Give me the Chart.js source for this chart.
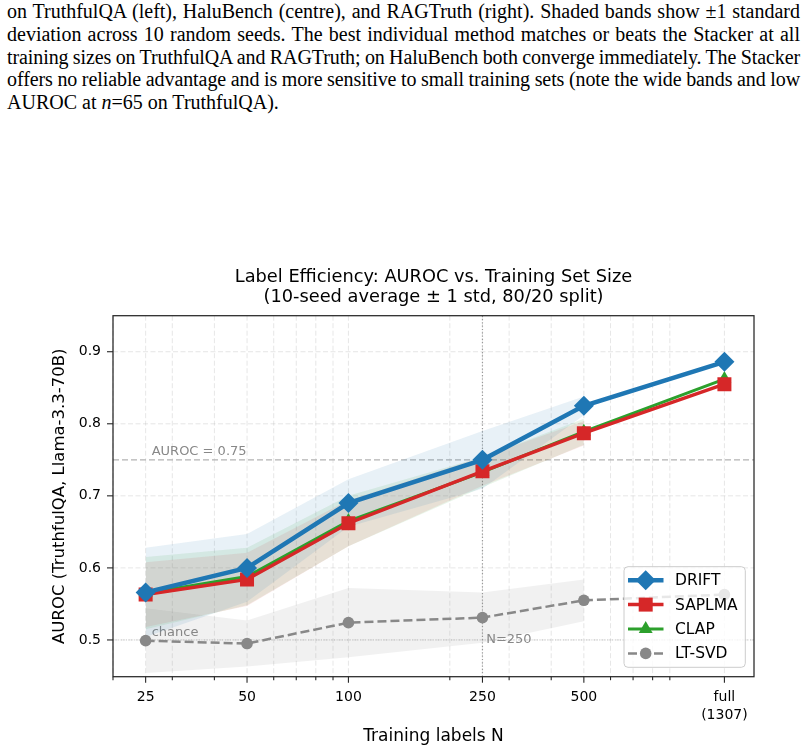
<!DOCTYPE html>
<html>
<head>
<meta charset="utf-8">
<script src="https://cdn.jsdelivr.net/npm/chart.js@4.4.1/dist/chart.umd.min.js"></script>
<style>
  html, body { margin: 0; padding: 0; background: #fff; width: 806px; height: 751px; overflow: hidden; }
  #caption { position: absolute; left: 7px; top: 0px; width: 793px; font-family: "Liberation Serif", "Times New Roman", serif; font-size: 20px; line-height: 22.8px; color: #000; }
  #caption div { white-space: nowrap; }
  #caption span { display: inline-block; }
  #wrap { position: absolute; left: 0; top: 240px; width: 806px; height: 511px; }
</style>
</head>
<body>
<div id="caption">
  <div><span class="just">on TruthfulQA (left), HaluBench (centre), and RAGTruth (right). Shaded bands show ±1 standard</span></div>
  <div><span class="just">deviation across 10 random seeds. The best individual method matches or beats the Stacker at all</span></div>
  <div><span class="just">training sizes on TruthfulQA and RAGTruth; on HaluBench both converge immediately. The Stacker</span></div>
  <div><span class="just">offers no reliable advantage and is more sensitive to small training sets (note the wide bands and low</span></div>
  <div><span>AUROC at <i>n</i>=65 on TruthfulQA).</span></div>
</div>
<div id="wrap"><canvas id="chart" width="806" height="511"></canvas></div>
<script>
// training set sizes (the last one is the full set)
var sizes = [25, 50, 100, 250, 500, 1307];
var bandSizes = [25, 50, 100, 250, 500];

var driftMean  = [0.566, 0.600, 0.690, 0.750, 0.825, 0.886];
var driftStd   = [0.062, 0.047, 0.033, 0.040, 0.013];
var saplmaMean = [0.563, 0.584, 0.662, 0.734, 0.787, 0.855];
var saplmaStd  = [0.045, 0.037, 0.032, 0.020, 0.017];
var clapMean   = [0.565, 0.588, 0.665, 0.733, 0.789, 0.862];
var clapStd    = [0.050, 0.040, 0.035, 0.021, 0.018];
var ltsvdMean  = [0.499, 0.495, 0.524, 0.531, 0.555, 0.563];
var ltsvdStd   = [0.045, 0.032, 0.048, 0.035, 0.029];

var xMajor = [25, 50, 100, 250, 500, 1307];
var xLabels = ['25', '50', '100', '250', '500', ['full', '(1307)']];
var xMinor = [20, 30, 40, 60, 70, 80, 90, 200, 300, 400, 600, 700, 800, 900];
var yTicks = [0.5, 0.6, 0.7, 0.8, 0.9];

var FONT = '"DejaVu Sans", Verdana, sans-serif';

// stretch (or squeeze) the caption lines like the typeset paragraph
document.querySelectorAll('#caption .just').forEach(function (el) {
  var text = el.textContent;
  var spaces = (text.match(/ /g) || []).length;
  var extra = 793 - el.getBoundingClientRect().width;
  if (extra >= 0) {
    el.style.wordSpacing = (extra / spaces) + 'px';
  } else {
    el.style.wordSpacing = (extra * 0.4 / spaces) + 'px';
    el.style.letterSpacing = (extra * 0.6 / text.length) + 'px';
  }
});

function points(xs, ys, off, sign) {
  return xs.map(function (x, i) {
    return { x: x, y: off ? ys[i] + sign * off[i] : ys[i] };
  });
}

function band(mean, std, color) {
  return [
    { label: '', data: points(bandSizes, mean, std, -1), borderWidth: 0, pointRadius: 0, fill: false, order: 20 },
    { label: '', data: points(bandSizes, mean, std, 1), borderWidth: 0, pointRadius: 0, fill: '-1', backgroundColor: color, order: 20 }
  ];
}

var datasets = [
  { label: 'DRIFT', data: points(sizes, driftMean), borderColor: '#1f77b4', backgroundColor: '#1f77b4',
    borderWidth: 4.5, pointStyle: 'rectRot', pointRadius: 10, pointBorderWidth: 0, fill: false, order: 1 },
  { label: 'SAPLMA', data: points(sizes, saplmaMean), borderColor: '#d62728', backgroundColor: '#d62728',
    borderWidth: 3.5, pointStyle: 'rect', pointRadius: 9.9, pointBorderWidth: 0, fill: false, order: 2 },
  { label: 'CLAP', data: points(sizes, clapMean), borderColor: '#2ca02c', backgroundColor: '#2ca02c',
    borderWidth: 3, pointStyle: 'triangle', pointRadius: 8, pointBorderWidth: 0, fill: false, order: 3 },
  { label: 'LT-SVD', data: points(sizes, ltsvdMean), borderColor: '#888888', backgroundColor: '#888888',
    borderWidth: 2.5, borderDash: [9, 4], pointStyle: 'circle', pointRadius: 5.8, pointBorderWidth: 0, fill: false, order: 4 }
]
  .concat(band(driftMean, driftStd, 'rgba(31,119,180,0.10)'))
  .concat(band(saplmaMean, saplmaStd, 'rgba(214,39,40,0.10)'))
  .concat(band(clapMean, clapStd, 'rgba(44,160,44,0.10)'))
  .concat(band(ltsvdMean, ltsvdStd, 'rgba(127,127,127,0.11)'));

function seg(ctx, x1, y1, x2, y2) {
  ctx.beginPath();
  ctx.moveTo(x1, y1);
  ctx.lineTo(x2, y2);
  ctx.stroke();
}

function marker(ctx, ds, x, y) {
  var r = ds.pointRadius;
  ctx.fillStyle = ds.backgroundColor;
  ctx.beginPath();
  if (ds.pointStyle === 'rectRot') {
    ctx.moveTo(x, y - r); ctx.lineTo(x + r, y); ctx.lineTo(x, y + r); ctx.lineTo(x - r, y);
  } else if (ds.pointStyle === 'rect') {
    var s = r * Math.SQRT1_2;
    ctx.rect(x - s, y - s, 2 * s, 2 * s);
  } else if (ds.pointStyle === 'triangle') {
    ctx.moveTo(x, y - r); ctx.lineTo(x + r * 0.866, y + r / 2); ctx.lineTo(x - r * 0.866, y + r / 2);
  } else {
    ctx.arc(x, y, r, 0, Math.PI * 2);
  }
  ctx.closePath();
  ctx.fill();
}

var decor = {
  id: 'decor',
  beforeDatasetsDraw: function (chart) {
    var ctx = chart.ctx, a = chart.chartArea, x = chart.scales.x, y = chart.scales.y;
    ctx.save();
    // dashed grid
    ctx.strokeStyle = 'rgba(176,176,176,0.4)';
    ctx.lineWidth = 0.8;
    ctx.setLineDash([5, 2.5]);
    x.ticks.forEach(function (t) { var px = x.getPixelForValue(t.value); seg(ctx, px, a.top, px, a.bottom); });
    y.ticks.forEach(function (t) { var py = y.getPixelForValue(t.value); seg(ctx, a.left, py, a.right, py); });
    // chance line
    var y50 = y.getPixelForValue(0.5);
    ctx.strokeStyle = '#bbbbbb';
    ctx.lineWidth = 0.9;
    ctx.setLineDash([1, 1.6]);
    seg(ctx, a.left, y50, a.right, y50);
    // AUROC = 0.75 line
    var y75 = y.getPixelForValue(0.75);
    ctx.strokeStyle = '#b3b3b3';
    ctx.lineWidth = 1.2;
    ctx.setLineDash([6, 3]);
    seg(ctx, a.left, y75, a.right, y75);
    // N = 250 line
    var x250 = x.getPixelForValue(250);
    ctx.strokeStyle = '#999999';
    ctx.lineWidth = 1.2;
    ctx.setLineDash([1.2, 2.1]);
    seg(ctx, x250, a.top, x250, a.bottom);
    ctx.setLineDash([]);
    // annotation texts
    ctx.fillStyle = '#888888';
    ctx.font = '13px ' + FONT;
    ctx.textAlign = 'left';
    ctx.textBaseline = 'alphabetic';
    ctx.fillText('AUROC = 0.75', a.left + 38.7, y75 - 4.4);
    ctx.fillText('chance', a.left + 38.7, y50 - 3.5);
    ctx.textBaseline = 'middle';
    ctx.fillText('N=250', x250 + 3.7, y50);
    ctx.restore();
  },
  afterDatasetsDraw: function (chart) {
    var ctx = chart.ctx, a = chart.chartArea, x = chart.scales.x, y = chart.scales.y;
    ctx.save();
    // axes box
    ctx.strokeStyle = '#262626';
    ctx.lineWidth = 1.25;
    ctx.strokeRect(a.left, a.top, a.right - a.left, a.bottom - a.top);
    // tick marks
    ctx.lineWidth = 1.1;
    x.ticks.forEach(function (t) {
      var px = x.getPixelForValue(t.value);
      var len = xMajor.indexOf(t.value) >= 0 ? 6 : 3.5;
      seg(ctx, px, a.bottom, px, a.bottom + len);
    });
    y.ticks.forEach(function (t) {
      var py = y.getPixelForValue(t.value);
      seg(ctx, a.left - 6, py, a.left, py);
    });
    // titles
    var cx = (a.left + a.right) / 2;
    ctx.fillStyle = '#000';
    ctx.textAlign = 'center';
    ctx.textBaseline = 'middle';
    ctx.font = '17.8px ' + FONT;
    ctx.fillText('Label Efficiency: AUROC vs. Training Set Size', cx, a.top - 38.5);
    ctx.fillText('(10-seed average \u00b1 1 std, 80/20 split)', cx, a.top - 18.5);
    ctx.font = '17px ' + FONT;
    ctx.fillText('Training labels N', cx, a.bottom + 59.5);
    ctx.save();
    ctx.translate(60, (a.top + a.bottom) / 2);
    ctx.rotate(-Math.PI / 2);
    ctx.font = '16.5px ' + FONT;
    ctx.fillText('AUROC (TruthfulQA, Llama-3.3-70B)', 0, 0);
    ctx.restore();
    // legend
    var bx = a.right - 130, by = a.bottom - 110, bw = 121.3, bh = 100.6;
    ctx.fillStyle = 'rgba(255,255,255,0.8)';
    ctx.strokeStyle = '#cccccc';
    ctx.lineWidth = 1;
    ctx.beginPath();
    ctx.roundRect(bx, by, bw, bh, 4);
    ctx.fill();
    ctx.stroke();
    ctx.font = '15.5px ' + FONT;
    ctx.textAlign = 'left';
    chart.data.datasets.filter(function (d) { return d.label; }).forEach(function (ds, i) {
      var ry = by + 13.5 + i * 24.4;
      ctx.strokeStyle = ds.borderColor;
      ctx.lineWidth = ds.borderWidth;
      ctx.setLineDash(ds.borderDash || []);
      seg(ctx, bx + 4, ry, bx + 39.5, ry);
      ctx.setLineDash([]);
      marker(ctx, ds, bx + 21.7, ry);
      ctx.fillStyle = '#000';
      ctx.fillText(ds.label, bx + 51, ry + 1);
    });
    ctx.restore();
  }
};

new Chart(document.getElementById('chart'), {
  type: 'line',
  data: { datasets: datasets },
  options: {
    responsive: false,
    animation: false,
    devicePixelRatio: 1,
    layout: { padding: { top: 75.7, right: 52, left: 0, bottom: 0 } },
    plugins: { legend: { display: false }, tooltip: { enabled: false } },
    elements: { line: { tension: 0 } },
    scales: {
      x: {
        type: 'logarithmic',
        min: 20,
        max: 1600,
        afterBuildTicks: function (s) {
          s.ticks = xMajor.concat(xMinor).sort(function (p, q) { return p - q; })
            .map(function (v) { return { value: v }; });
        },
        afterFit: function (s) { s.height = 74.3; },
        grid: { display: false, drawTicks: false },
        border: { display: false },
        ticks: {
          autoSkip: false,
          maxRotation: 0,
          padding: 12,
          color: '#000',
          font: { family: FONT, size: 14, lineHeight: 1.25 },
          callback: function (v) {
            var i = xMajor.indexOf(v);
            return i < 0 ? '' : xLabels[i];
          }
        }
      },
      y: {
        type: 'linear',
        min: 0.449,
        max: 0.95,
        afterBuildTicks: function (s) {
          s.ticks = yTicks.map(function (v) { return { value: v }; });
        },
        afterFit: function (s) { s.width = 113; },
        grid: { display: false, drawTicks: false },
        border: { display: false },
        ticks: {
          padding: 12,
          color: '#000',
          font: { family: FONT, size: 14 },
          callback: function (v) { return v.toFixed(1); }
        }
      }
    }
  },
  plugins: [decor]
});
</script>
</body>
</html>
